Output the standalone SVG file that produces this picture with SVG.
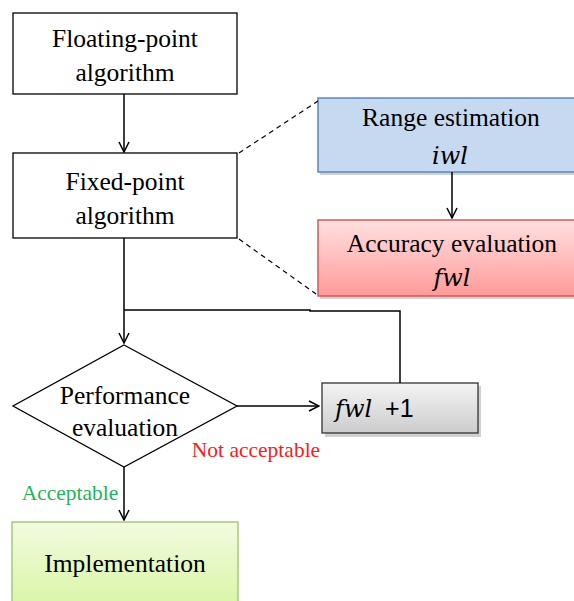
<svg xmlns="http://www.w3.org/2000/svg" width="574" height="601" viewBox="0 0 574 601">
<defs>
<style>
.t{font-family:"Liberation Serif","Times New Roman",serif;font-size:25.5px;fill:#000;text-anchor:middle}
.m{font-family:"DejaVu Serif","Liberation Serif",serif;font-style:italic;font-size:24px;fill:#000;text-anchor:middle}
.box{fill:#fff;stroke:#000;stroke-width:1.3}
.ln{fill:none;stroke:#000;stroke-width:1.5}
.dash{fill:none;stroke:#000;stroke-width:1.2;stroke-dasharray:5,4}
.sh{fill:#000;opacity:0.18}
.lbl{font-family:"Liberation Serif","Times New Roman",serif;font-size:21.5px;text-anchor:middle}
</style>
<linearGradient id="gRed" x1="0" y1="0" x2="0" y2="1"><stop offset="0" stop-color="#ffe0e0"/><stop offset="1" stop-color="#ff9a9a"/></linearGradient>
<linearGradient id="gGray" x1="0" y1="0" x2="0" y2="1"><stop offset="0" stop-color="#f4f4f4"/><stop offset="1" stop-color="#cccccc"/></linearGradient>
<linearGradient id="gGreen" x1="0" y1="0" x2="0" y2="1"><stop offset="0" stop-color="#f2fbe0"/><stop offset="1" stop-color="#d9f5a6"/></linearGradient>
<marker id="arr" viewBox="0 0 12 12" refX="11" refY="6" markerWidth="12" markerHeight="12" markerUnits="userSpaceOnUse" orient="auto">
<path d="M1,1 L11,6 L1,11" fill="none" stroke="#000" stroke-width="1.5"/>
</marker>
</defs>

<g id="floating">
<rect class="box" x="13" y="13" width="224" height="81"/>
<text class="t" x="125" y="47">Floating-point</text>
<text class="t" x="125" y="81">algorithm</text>
</g>

<g id="fixed">
<rect class="box" x="13" y="153" width="224" height="85"/>
<text class="t" x="125" y="190">Fixed-point</text>
<text class="t" x="125" y="224">algorithm</text>
</g>

<g id="range">
<rect class="sh" x="320" y="100" width="256" height="75"/>
<rect x="318" y="98" width="258" height="74" fill="#c6d9f1" stroke="#5a87c2" stroke-width="1.5"/>
<text class="t" x="451" y="126">Range estimation</text>
<text class="m" x="450" y="164">iwl</text>
</g>

<g id="accuracy">
<rect class="sh" x="320" y="222" width="256" height="77"/>
<rect x="318" y="220" width="258" height="76" fill="url(#gRed)" stroke="#d25a5a" stroke-width="1.5"/>
<text class="t" x="452" y="252">Accuracy evaluation</text>
<text class="m" x="452" y="286">fwl</text>
</g>

<g id="performance">
<polygon class="box" points="124,345 237,406 124,467 13,406"/>
<text class="t" x="125" y="404">Performance</text>
<text class="t" x="125" y="436">evaluation</text>
</g>

<g id="fwlplus">
<rect class="sh" x="325" y="386" width="156" height="51"/>
<rect x="322" y="383" width="156" height="50" fill="url(#gGray)" stroke="#333" stroke-width="1.3"/>
<text x="335" y="417" style="font-size:25px"><tspan style="font-family:'DejaVu Serif','Liberation Serif',serif;font-style:italic;font-size:24px">fwl</tspan><tspan dx="6" style="font-family:'Liberation Sans',Arial,sans-serif"> +1</tspan></text>
</g>

<g id="implementation">
<rect x="12" y="522" width="226" height="84" fill="url(#gGreen)" stroke="#a8c878" stroke-width="1.5"/>
<text class="t" x="125" y="572">Implementation</text>
</g>

<g id="connectors">
<line class="ln" x1="124" y1="94" x2="124" y2="152" marker-end="url(#arr)"/>
<line class="dash" x1="239" y1="153" x2="318" y2="101"/>
<line class="dash" x1="239" y1="239" x2="316" y2="294"/>
<line class="ln" x1="452" y1="172" x2="452" y2="218" marker-end="url(#arr)"/>
<line class="ln" x1="124" y1="238" x2="124" y2="343" marker-end="url(#arr)"/>
<polyline class="ln" points="124,310 310,310 310,311 400,311 400,383"/>
<line class="ln" x1="237" y1="406" x2="319" y2="406" marker-end="url(#arr)"/>
<line class="ln" x1="124" y1="467" x2="124" y2="520" marker-end="url(#arr)"/>
<text class="lbl" x="256" y="457" fill="#ff1a1a">Not acceptable</text>
<text class="lbl" x="70" y="500" fill="#1fb35a">Acceptable</text>
</g>
</svg>
